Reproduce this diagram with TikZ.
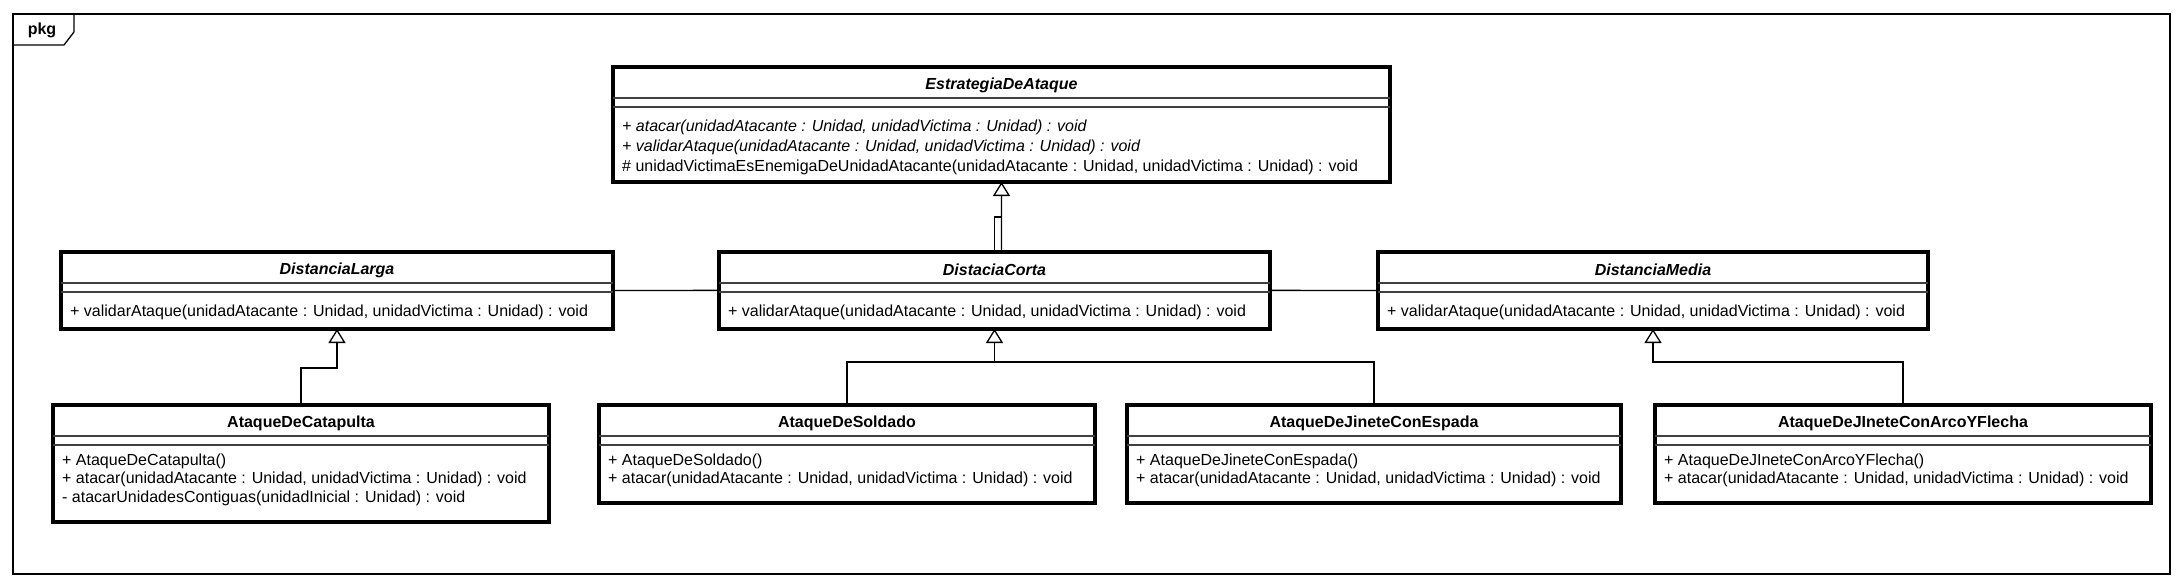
\documentclass[tikz,border=0pt]{standalone}
\usepackage{fontspec}
\setmainfont{Liberation Sans}
\usetikzlibrary{arrows.meta}
\newcommand\umlbox[5]{%
  \node[cls, minimum width={#4-#2}, minimum height={#5-#3}] (#1) at (#2,#3) {};
  \draw[sepline] ([yshift=-31pt]#1.north west) -- ([yshift=-31pt]#1.north east);
  \draw[sepline] ([yshift=-40pt]#1.north west) -- ([yshift=-40pt]#1.north east);
}
\begin{document}
\begin{tikzpicture}[x=1pt,y=-1pt,
  cls/.style={draw, line width=3.3pt, fill=white, inner sep=0pt, outer sep=0pt, anchor=north west},
  sepline/.style={line width=1.2pt, draw=black!75},
  ttl/.style={font=\fontsize{16}{19}\selectfont\bfseries, inner sep=0pt},
  attl/.style={font=\fontsize{16}{19}\selectfont\bfseries\itshape, inner sep=0pt},
  mtx/.style={font=\fontsize{16}{19}\selectfont, inner sep=0pt, anchor=base west},
  amtx/.style={mtx, font=\fontsize{16}{19}\selectfont\itshape},
  conn/.style={line width=1.3pt},
  gen/.style={conn, -{Triangle[length=14pt,width=17pt,fill=white,line width=1.3pt]}}
]
\useasboundingbox (0,0) rectangle (2184,586);
% package frame
\draw[conn] (13,14) rectangle (2170,574);
\draw[conn] (13,45) -- (64,45) -- (74,32) -- (74,14);
\node[font=\fontsize{16}{19}\selectfont\bfseries, inner sep=0pt] (pkg) at (42,30) {pkg};

\coordinate (jog) at (994.5,217);
\coordinate (hub) at (1001.5,290);

\umlbox{estr}{613}{67}{1390}{182}
\umlbox{larga}{61}{252}{613}{329}
\umlbox{media}{1378}{252}{1928}{329}

% lines from Larga and Media to Estrategia, passing behind Corta
\draw[gen] (larga.east) -- (hub) -- (estr.south);
\draw[conn] (media.west) -- (hub);

\umlbox{corta}{719}{252}{1270}{329}
\draw[conn] (corta.north) -- (jog) -- (jog -| estr.south);

\umlbox{cat}{53}{405}{549}{522}
\umlbox{sold}{599}{405}{1095}{503}
\umlbox{esp}{1127}{405}{1621}{503}
\umlbox{arco}{1655}{405}{2151}{503}

% generalizations of the bottom row
\draw[gen] (cat.north) |- (larga.south |- 0,368) -- (larga.south);
\draw[gen] (sold.north) |- (corta.south |- 0,362) -- (corta.south);
\draw[conn] (esp.north) |- (corta.south |- 0,362);
\draw[gen] (arco.north) |- (media.south |- 0,362) -- (media.south);

% texts
\node[attl] at ([yshift=-18pt]estr.north) {EstrategiaDeAtaque};
\node[amtx] at ([xshift=9pt,yshift=-64pt]estr.north west) {+ atacar(unidadAtacante : Unidad, unidadVictima : Unidad) : void};
\node[amtx] at ([xshift=9pt,yshift=-84pt]estr.north west) {+ validarAtaque(unidadAtacante : Unidad, unidadVictima : Unidad) : void};
\node[mtx] at ([xshift=9pt,yshift=-104pt]estr.north west) {\# unidadVictimaEsEnemigaDeUnidadAtacante(unidadAtacante : Unidad, unidadVictima : Unidad) : void};

\node[attl] at ([yshift=-18pt]larga.north) {DistanciaLarga};
\node[mtx] at ([xshift=9pt,yshift=-64pt]larga.north west) {+ validarAtaque(unidadAtacante : Unidad, unidadVictima : Unidad) : void};

\node[attl] at ([yshift=-18pt]corta.north) {DistaciaCorta};
\node[mtx] at ([xshift=9pt,yshift=-64pt]corta.north west) {+ validarAtaque(unidadAtacante : Unidad, unidadVictima : Unidad) : void};

\node[attl] at ([yshift=-18pt]media.north) {DistanciaMedia};
\node[mtx] at ([xshift=9pt,yshift=-64pt]media.north west) {+ validarAtaque(unidadAtacante : Unidad, unidadVictima : Unidad) : void};

\node[ttl] at ([yshift=-18pt]cat.north) {AtaqueDeCatapulta};
\node[mtx] at ([xshift=9pt,yshift=-60pt]cat.north west) {+ AtaqueDeCatapulta()};
\node[mtx] at ([xshift=9pt,yshift=-78.5pt]cat.north west) {+ atacar(unidadAtacante : Unidad, unidadVictima : Unidad) : void};
\node[mtx] at ([xshift=9pt,yshift=-97pt]cat.north west) {- atacarUnidadesContiguas(unidadInicial : Unidad) : void};

\node[ttl] at ([yshift=-18pt]sold.north) {AtaqueDeSoldado};
\node[mtx] at ([xshift=9pt,yshift=-60pt]sold.north west) {+ AtaqueDeSoldado()};
\node[mtx] at ([xshift=9pt,yshift=-78.5pt]sold.north west) {+ atacar(unidadAtacante : Unidad, unidadVictima : Unidad) : void};

\node[ttl] at ([yshift=-18pt]esp.north) {AtaqueDeJineteConEspada};
\node[mtx] at ([xshift=9pt,yshift=-60pt]esp.north west) {+ AtaqueDeJineteConEspada()};
\node[mtx] at ([xshift=9pt,yshift=-78.5pt]esp.north west) {+ atacar(unidadAtacante : Unidad, unidadVictima : Unidad) : void};

\node[ttl] at ([yshift=-18pt]arco.north) {AtaqueDeJIneteConArcoYFlecha};
\node[mtx] at ([xshift=9pt,yshift=-60pt]arco.north west) {+ AtaqueDeJIneteConArcoYFlecha()};
\node[mtx] at ([xshift=9pt,yshift=-78.5pt]arco.north west) {+ atacar(unidadAtacante : Unidad, unidadVictima : Unidad) : void};
\end{tikzpicture}
\end{document}
